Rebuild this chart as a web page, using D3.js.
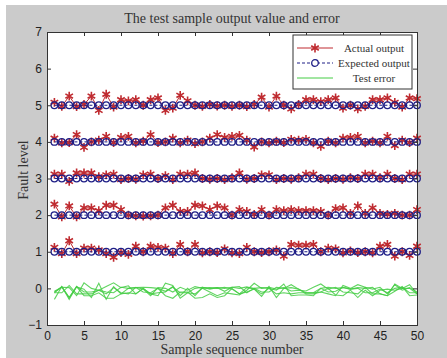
<!DOCTYPE html>
<html>
<head>
<meta charset="utf-8">
<script src="https://cdn.jsdelivr.net/npm/d3@7"></script>
<style>
  body { margin: 0; background: #fff; }
  svg { display: block; }
</style>
</head>
<body>
<div id="chart"></div>
<script>
// sample index 1..50
const samples = d3.range(1, 51);

// expected fault levels
const levels = [1, 2, 3, 4, 5];

// actual network output, one row per fault level
const actual1 = [1.12, 0.95, 1.30, 0.95, 1.10, 1.10, 1.05, 0.95, 0.85, 0.98,
  0.93, 1.15, 1.00, 1.15, 1.12, 1.10, 0.95, 1.20, 1.00, 1.20,
  0.97, 1.00, 0.98, 1.08, 0.97, 0.95, 1.12, 1.00, 0.98, 1.00,
  1.05, 0.88, 1.20, 1.18, 1.18, 1.20, 1.00, 1.10, 1.08, 0.97,
  1.02, 0.98, 1.00, 0.97, 1.15, 1.20, 0.88, 1.00, 0.90, 1.15];
const actual2 = [2.30, 1.95, 2.25, 1.95, 2.20, 2.20, 2.12, 2.27, 2.27, 2.15,
  2.00, 1.98, 1.97, 1.98, 2.00, 2.20, 2.27, 2.10, 2.10, 2.27,
  2.25, 2.15, 2.25, 2.20, 2.00, 2.15, 2.10, 2.02, 2.15, 2.00,
  2.15, 2.12, 2.15, 2.12, 2.12, 2.12, 2.10, 2.00, 2.18, 2.20,
  2.05, 2.25, 2.05, 2.20, 2.05, 2.02, 2.05, 2.00, 2.00, 2.15];
const actual3 = [3.12, 3.12, 2.92, 3.15, 3.15, 3.15, 3.05, 3.10, 3.12, 2.97,
  3.00, 2.98, 3.10, 3.12, 3.00, 3.08, 2.97, 3.12, 3.12, 3.15,
  3.00, 2.98, 3.00, 2.97, 3.02, 3.15, 2.98, 3.00, 3.10, 3.10,
  2.97, 3.00, 2.98, 3.02, 3.12, 3.12, 3.00, 2.97, 3.00, 2.98,
  3.02, 3.00, 3.12, 3.12, 3.02, 3.12, 3.00, 2.97, 3.12, 3.12];
const actual4 = [4.10, 3.97, 3.98, 4.20, 3.85, 4.00, 4.05, 4.15, 3.98, 4.12,
  4.15, 3.97, 4.02, 4.20, 3.98, 4.00, 4.10, 3.97, 4.05, 3.95,
  4.00, 4.10, 4.20, 4.12, 4.15, 4.18, 4.05, 3.86, 4.00, 3.97,
  4.02, 3.98, 4.07, 4.05, 4.07, 3.97, 3.88, 4.02, 3.97, 4.10,
  4.12, 4.15, 3.97, 4.02, 3.97, 4.15, 3.90, 4.05, 3.98, 4.10];
const actual5 = [5.08, 4.97, 5.25, 4.96, 5.02, 5.25, 4.86, 5.30, 4.95, 5.15,
  5.12, 5.15, 5.00, 5.15, 5.20, 4.86, 4.92, 5.27, 5.12, 5.00,
  4.97, 5.02, 4.98, 5.00, 4.97, 5.00, 4.96, 5.02, 5.22, 4.95,
  5.25, 5.00, 4.90, 5.02, 5.15, 5.15, 5.10, 5.15, 5.20, 4.92,
  5.00, 4.90, 4.97, 5.15, 5.15, 5.20, 5.08, 4.95, 5.20, 5.18];
const actualRows = [actual1, actual2, actual3, actual4, actual5];

const xTicks = [0, 5, 10, 15, 20, 25, 30, 35, 40, 45, 50];
const yTicks = [-1, 0, 1, 2, 3, 4, 5, 6, 7];
const legendLabels = ['Actual output', 'Expected output', 'Test error'];

const width = 447, height = 358;
const plot = {left: 47, right: 417, top: 32, bottom: 325};
const red = '#bf2b30', blue = '#1e1e86', green = '#44cc44';

const svg = d3.select('#chart').append('svg')
  .attr('width', width)
  .attr('height', height);

// figure background
svg.append('rect')
  .attr('x', 6).attr('y', 5)
  .attr('width', width - 6).attr('height', height - 5)
  .attr('fill', '#cbcbcb');

const x = d3.scaleLinear().domain([0, 50]).range([plot.left, plot.right]);
const y = d3.scaleLinear().domain([-1, 7]).range([plot.bottom, plot.top]);

svg.append('rect')
  .attr('x', plot.left).attr('y', plot.top)
  .attr('width', plot.right - plot.left)
  .attr('height', plot.bottom - plot.top)
  .attr('fill', '#fff');

const starPath = 'M0,-4.4L0,4.4M-3.8,-2.2L3.8,2.2M-3.8,2.2L3.8,-2.2';

// test error = expected - actual
let errRows = actualRows.map((row, k) => row.map(v => levels[k] - v));

let errLine = d3.line().x((d, i) => x(samples[i])).y(d => y(d));
svg.append('g').selectAll('path')
  .data(errRows)
  .enter()
  .append('path')
  .attr('d', errLine)
  .attr('fill', 'none')
  .attr('stroke', green)
  .attr('stroke-opacity', 0.85)
  .attr('stroke-width', 1.1);

// actual output
let actLine = d3.line().x((d, i) => x(samples[i])).y(d => y(d));
let act = svg.append('g').selectAll('g')
  .data(actualRows)
  .enter()
  .append('g');

act.append('path')
  .attr('d', actLine)
  .attr('fill', 'none')
  .attr('stroke', red)
  .attr('stroke-width', 1);

act.selectAll('path.star')
  .data(d => d)
  .enter()
  .append('path')
  .attr('class', 'star')
  .attr('d', starPath)
  .attr('transform', (d, i) => 'translate(' + x(samples[i]) + ',' + y(d) + ')')
  .attr('fill', 'none')
  .attr('stroke', red)
  .attr('stroke-width', 1.6);

// expected output
let exp = svg.append('g').selectAll('g')
  .data(levels)
  .enter()
  .append('g');

exp.append('line')
  .attr('x1', x(samples[0])).attr('x2', x(samples[samples.length - 1]))
  .attr('y1', d => y(d)).attr('y2', d => y(d))
  .attr('stroke', blue)
  .attr('stroke-width', 1)
  .attr('stroke-dasharray', '3,2');

exp.selectAll('circle')
  .data(d => samples.map(s => ({s: s, v: d})))
  .enter()
  .append('circle')
  .attr('cx', d => x(d.s))
  .attr('cy', d => y(d.v))
  .attr('r', 3.3)
  .attr('fill', 'none')
  .attr('stroke', blue)
  .attr('stroke-width', 1.3);

// axes box with inward ticks on all four sides
const tickFont = '"Liberation Sans", Arial, sans-serif';
const serif = '"Liberation Serif", "Times New Roman", serif';

let axB = svg.append('g').attr('transform', 'translate(0,' + plot.bottom + ')')
  .call(d3.axisBottom(x).tickValues(xTicks).tickSize(-4).tickPadding(6));
let axT = svg.append('g').attr('transform', 'translate(0,' + plot.top + ')')
  .call(d3.axisTop(x).tickValues(xTicks).tickSize(-4).tickFormat(''));
let axL = svg.append('g').attr('transform', 'translate(' + plot.left + ',0)')
  .call(d3.axisLeft(y).tickValues(yTicks).tickSize(-4).tickPadding(5));
let axR = svg.append('g').attr('transform', 'translate(' + plot.right + ',0)')
  .call(d3.axisRight(y).tickValues(yTicks).tickSize(-4).tickFormat(''));

[axB, axT, axL, axR].forEach(a => {
  a.select('.domain').attr('stroke', '#333').attr('stroke-width', 1);
  a.selectAll('.tick line').attr('stroke', '#333');
  a.selectAll('text')
    .attr('fill', '#222')
    .style('font-family', tickFont)
    .style('font-size', '12px');
});

// title and axis labels
svg.append('text')
  .text('The test sample output value and error')
  .attr('x', (plot.left + plot.right) / 2)
  .attr('y', 23)
  .attr('text-anchor', 'middle')
  .style('font-family', serif)
  .style('font-size', '14px')
  .attr('fill', '#333');

svg.append('text')
  .text('Sample sequence number')
  .attr('x', (plot.left + plot.right) / 2)
  .attr('y', 354)
  .attr('text-anchor', 'middle')
  .style('font-family', serif)
  .style('font-size', '14px')
  .attr('fill', '#333');

svg.append('text')
  .text('Fault level')
  .attr('transform', 'translate(28,170) rotate(-90)')
  .attr('text-anchor', 'middle')
  .style('font-family', serif)
  .style('font-size', '14px')
  .attr('fill', '#333');

// legend
let legend = svg.append('g');
legend.append('rect')
  .attr('x', 293).attr('y', 35)
  .attr('width', 119).attr('height', 54)
  .attr('fill', '#fff')
  .attr('stroke', '#333')
  .attr('stroke-width', 1);

let rows = legend.selectAll('g.row')
  .data(legendLabels)
  .enter()
  .append('g')
  .attr('class', 'row')
  .attr('transform', (d, i) => 'translate(0,' + (48 + i * 15) + ')');

rows.append('line')
  .attr('x1', 297).attr('x2', 333)
  .attr('y1', 0).attr('y2', 0)
  .attr('stroke', (d, i) => [red, blue, green][i])
  .attr('stroke-width', 1)
  .attr('stroke-dasharray', (d, i) => i === 1 ? '3,2' : null);

rows.filter((d, i) => i === 0).append('path')
  .attr('d', starPath)
  .attr('transform', 'translate(315,0)')
  .attr('fill', 'none')
  .attr('stroke', red)
  .attr('stroke-width', 1.6);

rows.filter((d, i) => i === 1).append('circle')
  .attr('cx', 315).attr('cy', 0).attr('r', 3.3)
  .attr('fill', '#fff')
  .attr('stroke', blue)
  .attr('stroke-width', 1.3);

rows.append('text')
  .text(d => d)
  .attr('x', 374)
  .attr('y', 3.5)
  .attr('text-anchor', 'middle')
  .style('font-family', serif)
  .style('font-size', '11px')
  .attr('fill', '#333');
</script>
</body>
</html>
